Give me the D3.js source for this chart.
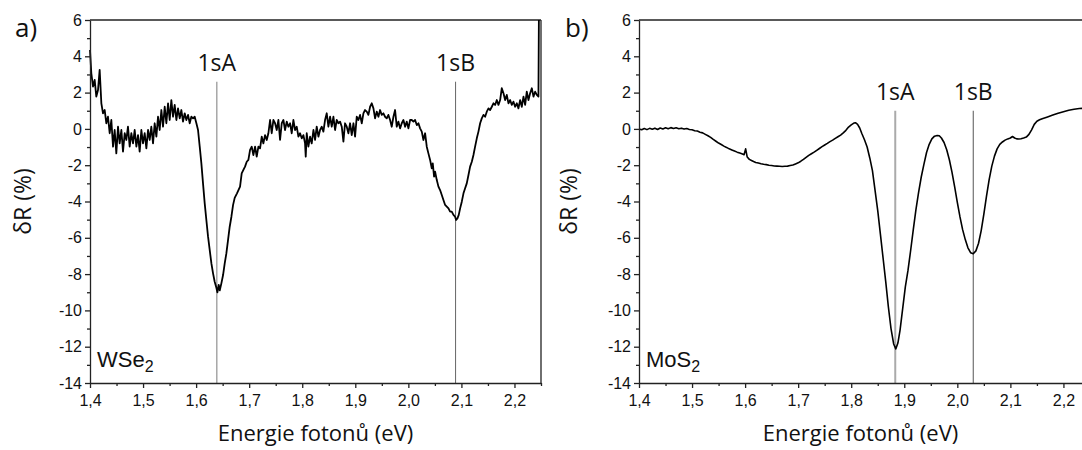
<!DOCTYPE html>
<html>
<head>
<meta charset="utf-8">
<script src="https://cdn.jsdelivr.net/npm/d3@7"></script>
<style>
  body { margin: 0; background: #fff; }
  svg { display: block; }
</style>
</head>
<body>
<div id="chart-area"></div>
<script>
// WSe2 spectrum
var energyWSe2 = [
  1.4000, 1.4025, 1.4057, 1.4088, 1.4119, 1.4151, 1.4182, 1.4214, 1.4245, 1.4277,
  1.4308, 1.4339, 1.4371, 1.4402, 1.4434, 1.4465, 1.4496, 1.4528, 1.4559, 1.4591,
  1.4622, 1.4654, 1.4685, 1.4716, 1.4748, 1.4779, 1.4811, 1.4842, 1.4874, 1.4905,
  1.4936, 1.4968, 1.4999, 1.5031, 1.5062, 1.5094, 1.5125, 1.5156, 1.5188, 1.5219,
  1.5251, 1.5282, 1.5313, 1.5345, 1.5376, 1.5408, 1.5439, 1.5471, 1.5502, 1.5533,
  1.5565, 1.5596, 1.5628, 1.5659, 1.5691, 1.5722, 1.5753, 1.5785, 1.5816, 1.5848,
  1.5879, 1.5910, 1.5942, 1.5973, 1.6005, 1.6036, 1.6068, 1.6099, 1.6130, 1.6162,
  1.6193, 1.6225, 1.6256, 1.6288, 1.6319, 1.6350, 1.6382, 1.6401, 1.6426, 1.6445,
  1.6476, 1.6508, 1.6539, 1.6570, 1.6602, 1.6633, 1.6665, 1.6696, 1.6727, 1.6770,
  1.6828, 1.6859, 1.6891, 1.6922, 1.6954, 1.6985, 1.7017, 1.7048, 1.7079, 1.7111,
  1.7142, 1.7174, 1.7205, 1.7237, 1.7268, 1.7299, 1.7331, 1.7362, 1.7394, 1.7425,
  1.7456, 1.7488, 1.7519, 1.7551, 1.7582, 1.7614, 1.7645, 1.7676, 1.7708, 1.7739,
  1.7771, 1.7802, 1.7833, 1.7865, 1.7896, 1.7928, 1.7959, 1.7991, 1.8022, 1.8053,
  1.8066, 1.8085, 1.8116, 1.8148, 1.8179, 1.8211, 1.8242, 1.8273, 1.8305, 1.8336,
  1.8368, 1.8399, 1.8430, 1.8462, 1.8493, 1.8525, 1.8556, 1.8588, 1.8619, 1.8650,
  1.8682, 1.8713, 1.8745, 1.8776, 1.8807, 1.8839, 1.8870, 1.8902, 1.8933, 1.8965,
  1.8996, 1.9027, 1.9059, 1.9090, 1.9122, 1.9153, 1.9184, 1.9216, 1.9247, 1.9279,
  1.9310, 1.9342, 1.9373, 1.9404, 1.9436, 1.9467, 1.9499, 1.9530, 1.9561, 1.9593,
  1.9624, 1.9656, 1.9687, 1.9719, 1.9750, 1.9781, 1.9813, 1.9844, 1.9876, 1.9907,
  1.9939, 1.9970, 2.0001, 2.0033, 2.0064, 2.0096, 2.0127, 2.0159, 2.0190, 2.0221,
  2.0253, 2.0284, 2.0316, 2.0347, 2.0378, 2.0410, 2.0441, 2.0460, 2.0485, 2.0504,
  2.0536, 2.0567, 2.0598, 2.0630, 2.0661, 2.0693, 2.0724, 2.0756, 2.0787, 2.0818,
  2.0850, 2.0881, 2.0900, 2.0925, 2.0950, 2.0976, 2.1007, 2.1039, 2.1070, 2.1101,
  2.1133, 2.1164, 2.1196, 2.1227, 2.1258, 2.1290, 2.1321, 2.1353, 2.1384, 2.1416,
  2.1447, 2.1478, 2.1510, 2.1541, 2.1573, 2.1604, 2.1635, 2.1667, 2.1698, 2.1730,
  2.1761, 2.1793, 2.1824, 2.1855, 2.1887, 2.1918, 2.1950, 2.1981, 2.2012, 2.2044,
  2.2075, 2.2107, 2.2138, 2.2170, 2.2201, 2.2232, 2.2264, 2.2295, 2.2327, 2.2358,
  2.2389, 2.2421, 2.2452, 2.2460
];
var dRWSe2 = [
  4.35, 3.06, 2.33, 2.70, 1.78, 2.14, 3.25, 1.41, 0.86, 1.04,
  0.31, 0.67, -0.24, 0.49, -0.98, -0.06, -1.35, 0.12, -0.80, -0.06,
  -1.25, -0.24, -0.61, 0.12, -0.98, -0.24, -0.80, -0.06, -0.98, -0.34,
  -1.25, -0.06, -0.80, -0.24, -1.07, -0.06, -0.61, 0.12, -0.80, 0.31,
  -0.43, 0.67, -0.06, 1.04, 0.12, 1.22, 0.31, 1.41, 0.49, 1.59,
  0.67, 1.32, 0.49, 1.13, 0.58, 1.04, 0.40, 0.86, 0.49, 0.77,
  0.31, 0.67, 0.58, 0.67, 0.31, -0.06, -0.98, -1.90, -3.00, -4.10,
  -5.02, -5.94, -6.67, -7.41, -7.96, -8.42, -8.75, -9.00, -8.60, -8.90,
  -8.51, -8.05, -7.41, -6.86, -6.12, -5.39, -4.84, -4.20, -3.80, -3.55,
  -3.18, -2.45, -2.26, -2.08, -1.81, -1.71, -1.16, -0.98, -1.44, -0.98,
  -1.53, -0.98, -1.07, -0.43, -0.80, -0.34, -0.61, -0.24, 0.49, -0.24,
  0.49, 0.31, -0.06, 0.49, -0.61, 0.31, 0.49, -0.06, 0.40, 0.12,
  0.31, -0.24, 0.49, -0.06, 0.12, -0.43, -0.24, -0.52, -0.34, -0.80,
  -1.53, -0.24, -0.98, -0.43, -0.80, -0.06, -0.61, 0.12, -0.43, -0.06,
  0.12, -0.15, 0.49, 0.86, 0.12, 0.67, 0.12, 0.67, -0.06, 0.49,
  0.31, 0.40, 0.12, -0.70, 0.31, 0.12, -0.24, 0.31, -0.34, 0.31,
  -0.43, 0.67, 0.49, 0.77, 0.31, 0.86, 1.04, 0.95, 0.77, 1.22,
  1.41, 1.13, 0.58, 0.95, 0.67, 1.04, 0.77, 0.86, 0.67, 0.58,
  0.77, 0.49, 0.12, 0.67, 1.04, 0.12, 0.40, 0.03, 0.31, 0.49,
  0.12, 0.40, 0.03, 0.49, 0.49, 0.40, 0.49, 0.21, 0.31, 0.03,
  -0.15, -0.61, -0.24, -0.98, -1.35, -1.71, -2.17, -1.90, -2.63, -2.36,
  -2.82, -3.18, -3.37, -3.64, -3.92, -4.19, -4.28, -4.38, -4.56, -4.56,
  -4.74, -4.84, -5.02, -4.93, -4.74, -4.38, -4.01, -3.55, -3.27, -3.00,
  -2.54, -2.08, -1.81, -1.44, -0.98, -0.52, -0.15, 0.31, 0.58, 0.77,
  0.67, 0.95, 1.13, 1.04, 1.22, 1.41, 1.32, 1.59, 1.32, 1.59,
  2.24, 1.96, 1.59, 1.87, 1.41, 1.59, 1.32, 1.50, 1.22, 1.41,
  1.13, 1.59, 1.22, 1.78, 1.32, 2.05, 1.59, 1.96, 2.24, 1.78,
  2.05, 1.87, 1.78, 6.00
];

// MoS2 spectrum
var energyMoS2 = [
  1.400, 1.405, 1.410, 1.415, 1.420, 1.425, 1.430, 1.435, 1.440, 1.445,
  1.450, 1.455, 1.460, 1.465, 1.470, 1.475, 1.480, 1.485, 1.490, 1.495,
  1.500, 1.505, 1.510, 1.515, 1.520, 1.525, 1.530, 1.535, 1.540, 1.545,
  1.550, 1.555, 1.560, 1.565, 1.570, 1.575, 1.580, 1.585, 1.590, 1.595,
  1.598, 1.601, 1.604, 1.608, 1.612, 1.616, 1.620, 1.625, 1.630, 1.635,
  1.640, 1.645, 1.650, 1.655, 1.660, 1.665, 1.670, 1.675, 1.680, 1.685,
  1.690, 1.695, 1.700, 1.705, 1.710, 1.715, 1.720, 1.725, 1.730, 1.735,
  1.740, 1.745, 1.750, 1.755, 1.760, 1.765, 1.770, 1.775, 1.780, 1.785,
  1.790, 1.795, 1.800, 1.805, 1.808, 1.812, 1.816, 1.820, 1.825, 1.830,
  1.835, 1.840, 1.845, 1.850, 1.855, 1.860, 1.865, 1.870, 1.875, 1.880,
  1.884, 1.888, 1.892, 1.897, 1.902, 1.907, 1.912, 1.917, 1.922, 1.927,
  1.932, 1.937, 1.942, 1.947, 1.952, 1.957, 1.962, 1.966, 1.970, 1.975,
  1.980, 1.985, 1.990, 1.995, 2.000, 2.005, 2.010, 2.015, 2.020, 2.025,
  2.030, 2.035, 2.040, 2.045, 2.050, 2.055, 2.060, 2.065, 2.070, 2.075,
  2.080, 2.085, 2.090, 2.095, 2.100, 2.104, 2.108, 2.112, 2.116, 2.120,
  2.125, 2.130, 2.135, 2.140, 2.145, 2.150, 2.155, 2.160, 2.170, 2.180,
  2.190, 2.200, 2.210, 2.220, 2.230, 2.235
];
var dRMoS2 = [
  0.00, -0.05, 0.02, -0.04, 0.03, -0.02, 0.04, -0.03, 0.05, 0.00,
  0.06, 0.01, 0.07, 0.02, 0.06, 0.01, 0.04, -0.01, 0.02, -0.03,
  -0.05, -0.10, -0.12, -0.18, -0.22, -0.30, -0.38, -0.47, -0.58, -0.68,
  -0.78, -0.86, -0.95, -1.02, -1.10, -1.16, -1.22, -1.28, -1.33, -1.38,
  -1.42, -1.10, -1.55, -1.68, -1.74, -1.80, -1.85, -1.88, -1.92, -1.95,
  -1.97, -2.00, -2.02, -2.04, -2.05, -2.06, -2.07, -2.06, -2.05, -2.02,
  -1.99, -1.93, -1.87, -1.78, -1.68, -1.57, -1.46, -1.37, -1.28, -1.18,
  -1.08, -0.98, -0.89, -0.80, -0.70, -0.62, -0.52, -0.43, -0.34, -0.22,
  -0.08, 0.10, 0.22, 0.32, 0.34, 0.25, 0.05, -0.25, -0.60, -1.00,
  -1.60, -2.30, -3.40, -4.50, -5.80, -7.10, -8.40, -9.80, -11.00, -11.85,
  -12.12, -11.80, -11.10, -9.90, -8.70, -7.80, -6.70, -5.55, -4.45, -3.50,
  -2.65, -1.95, -1.30, -0.85, -0.55, -0.40, -0.36, -0.38, -0.50, -0.75,
  -1.15, -1.70, -2.40, -3.20, -4.05, -4.85, -5.55, -6.10, -6.55, -6.82,
  -6.88, -6.72, -6.30, -5.60, -4.70, -3.70, -2.80, -2.05, -1.50, -1.10,
  -0.85, -0.72, -0.62, -0.55, -0.50, -0.42, -0.50, -0.55, -0.56, -0.54,
  -0.50, -0.45, -0.30, -0.05, 0.25, 0.42, 0.50, 0.56, 0.66, 0.76,
  0.86, 0.95, 1.03, 1.08, 1.12, 1.13
];

var peakLabels = ["1sA", "1sB"];
var peakEnergyWSe2 = [1.639, 2.089];
var peakEnergyMoS2 = [1.883, 2.030];

var xMajorTicks = [1.4, 1.5, 1.6, 1.7, 1.8, 1.9, 2.0, 2.1, 2.2];
var xMinorTicks = [1.45, 1.55, 1.65, 1.75, 1.85, 1.95, 2.05, 2.15, 2.25];
var yMajorTicks = [6, 4, 2, 0, -2, -4, -6, -8, -10, -12, -14];
var yMinorTicks = [5, 3, 1, -1, -3, -5, -7, -9, -11, -13];

var locale = d3.formatLocale({ decimal: ",", thousands: " ", grouping: [3], currency: ["", ""], minus: "-" });
var fmtX = locale.format(".1f");
var fmtY = locale.format("d");

var svg = d3.select("#chart-area")
  .append("svg")
  .attr("width", 1082)
  .attr("height", 450);

var tickFont = "'Liberation Sans', Arial, sans-serif";
var titleFont = "'Open Sans', 'DejaVu Sans', sans-serif";

function drawPanel(cfg) {
  var width = cfg.width, height = 363;
  var g = svg.append("g")
    .attr("transform", "translate(" + cfg.left + ",20)");

  var x = d3.scaleLinear().domain(cfg.xDomain).range([0, width]);
  var y = d3.scaleLinear().domain([-14, 6]).range([height, 0]);

  // frame
  g.append("line")
    .attr("x1", 0).attr("x2", width).attr("y1", 0).attr("y2", 0)
    .attr("stroke", "#222").attr("stroke-width", 1.3);
  if (cfg.rightFrame) {
    g.append("line")
      .attr("x1", width).attr("x2", width).attr("y1", 0).attr("y2", height)
      .attr("stroke", "#222").attr("stroke-width", 1.3);
  }

  // peak markers
  peakLabels.forEach(function (lab, i) {
    var e = cfg.peaks[i];
    g.append("line")
      .attr("x1", x(e)).attr("x2", x(e))
      .attr("y1", y(cfg.markerTop)).attr("y2", y(-14))
      .attr("stroke", cfg.markerColor[i])
      .attr("stroke-width", cfg.markerWidth[i]);
    g.append("text")
      .attr("x", x(e))
      .attr("y", y(cfg.markerTop) - 11)
      .attr("text-anchor", "middle")
      .attr("font-family", titleFont)
      .attr("font-size", "23px")
      .attr("fill", "#111")
      .text(lab);
  });

  // spectrum
  var pts = cfg.energy.map(function (e, i) { return [e, cfg.values[i]]; });
  var line = d3.line()
    .x(function (d) { return x(d[0]); })
    .y(function (d) { return y(d[1]); });
  g.append("path")
    .datum(pts)
    .attr("d", line)
    .attr("fill", "none")
    .attr("stroke", "#000")
    .attr("stroke-width", cfg.lineWidth)
    .attr("stroke-linejoin", "round");

  // axes
  var xAxisCall = d3.axisBottom(x).tickValues(xMajorTicks).tickFormat(fmtX)
    .tickSize(5).tickSizeOuter(0).tickPadding(7);
  g.append("g")
    .attr("class", "x axis")
    .attr("transform", "translate(0," + height + ")")
    .call(xAxisCall);
  g.append("g")
    .attr("transform", "translate(0," + height + ")")
    .call(d3.axisBottom(x).tickValues(xMinorTicks.filter(function (t) { return t <= cfg.xDomain[1]; }))
      .tickFormat("").tickSize(3).tickSizeOuter(0))
    .select(".domain").remove();

  var yAxisCall = d3.axisLeft(y).tickValues(yMajorTicks).tickFormat(fmtY)
    .tickSize(5).tickSizeOuter(0).tickPadding(3);
  g.append("g")
    .attr("class", "y axis")
    .call(yAxisCall);
  g.append("g")
    .call(d3.axisLeft(y).tickValues(yMinorTicks).tickFormat("").tickSize(3).tickSizeOuter(0))
    .select(".domain").remove();

  g.selectAll(".domain, .tick line")
    .attr("stroke", "#222")
    .attr("stroke-width", 1.3);
  g.selectAll(".tick text")
    .attr("font-family", tickFont)
    .attr("font-size", "16px")
    .attr("fill", "#111");

  // axis titles
  g.append("text")
    .attr("x", width / 2 + cfg.xTitleShift)
    .attr("y", height + 58)
    .attr("text-anchor", "middle")
    .attr("font-family", titleFont)
    .attr("font-size", "22px")
    .attr("fill", "#111")
    .text("Energie fotonů (eV)");

  g.append("text")
    .attr("transform", "translate(" + cfg.yTitleX + "," + (height / 2) + ") rotate(-90)")
    .attr("text-anchor", "middle")
    .attr("font-family", titleFont)
    .attr("font-size", "23px")
    .attr("fill", "#111")
    .text("δR (%)");

  // panel letter
  g.append("text")
    .attr("x", cfg.letterX)
    .attr("y", 17)
    .attr("font-family", titleFont)
    .attr("font-size", "26px")
    .attr("fill", "#111")
    .text(cfg.letter);

  // material label
  var m = g.append("text")
    .attr("x", 7)
    .attr("y", height - 16)
    .attr("font-family", tickFont)
    .attr("font-size", "22px")
    .attr("fill", "#111");
  m.append("tspan").text(cfg.material);
  m.append("tspan").attr("font-size", "16px").attr("dy", 5).text("2");
}

drawPanel({
  left: 90, width: 451, xDomain: [1.4, 2.25],
  energy: energyWSe2, values: dRWSe2, lineWidth: 1.8,
  peaks: peakEnergyWSe2, markerTop: 2.6,
  markerColor: ["#999", "#666"], markerWidth: [1.3, 1],
  rightFrame: true, xTitleShift: 0, yTitleX: -59, letterX: -75,
  letter: "a)", material: "WSe"
});

drawPanel({
  left: 639, width: 443, xDomain: [1.4, 2.235],
  energy: energyMoS2, values: dRMoS2, lineWidth: 1.6,
  peaks: peakEnergyMoS2, markerTop: 1.0,
  markerColor: ["#aaa", "#555"], markerWidth: [2, 1],
  rightFrame: false, xTitleShift: 0, yTitleX: -62, letterX: -74,
  letter: "b)", material: "MoS"
});
</script>
</body>
</html>
